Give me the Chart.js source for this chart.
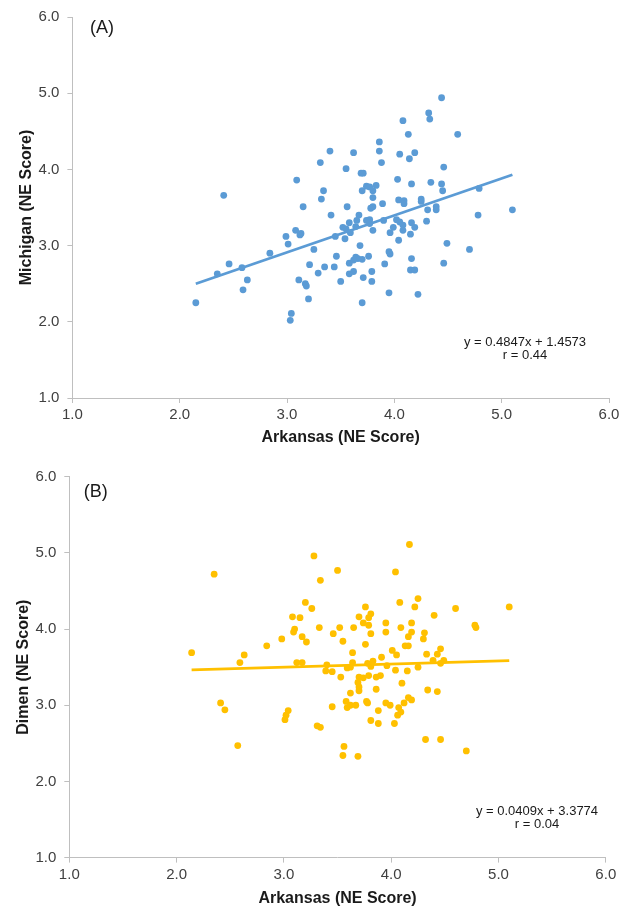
<!DOCTYPE html>
<html><head><meta charset="utf-8">
<script src="https://cdn.jsdelivr.net/npm/chart.js@4.4.1/dist/chart.umd.min.js"></script>
<style>
html,body{margin:0;padding:0;background:#fff;}
#wrap{position:relative;width:631px;height:908px;overflow:hidden;}
.c{position:absolute;left:0;width:631px;}
canvas{display:block;}
</style></head><body>
<div id="wrap">
<div class="c" style="top:0;height:456px"><canvas id="cA" width="631" height="456"></canvas></div>
<div class="c" style="top:456px;height:452px"><canvas id="cB" width="631" height="452"></canvas></div>
</div>
<script>
// ---- Panel A data (Arkansas vs Michigan) ----
const arkansasA = [3.40,3.31,3.55,3.09,2.41,3.34,3.32,3.15,3.56,3.41,3.58,3.52,3.08,3.13,3.12,2.99,3.45,3.54,3.01,3.25,
2.84,3.46,2.46,3.21,3.35,3.44,3.58,2.58,2.35,3.29,3.58,2.63,3.11,3.17,3.18,3.50,2.59,3.20,2.15,3.04,
3.03,4.44,4.32,4.33,4.08,4.59,4.13,3.86,3.62,3.86,4.05,4.19,4.14,3.88,4.46,3.69,3.71,4.03,4.34,4.16,
4.44,3.83,3.74,3.77,3.70,3.80,4.45,4.79,3.80,4.04,4.09,4.09,4.25,4.25,3.89,3.80,3.78,4.39,4.39,4.31,
5.10,3.67,4.78,3.65,3.74,3.77,3.90,4.02,4.05,4.30,3.77,4.16,4.08,3.64,3.99,4.19,3.55,3.80,4.08,3.59,
3.96,4.15,4.04,4.49,4.70,3.68,3.95,3.96,3.76,4.16,3.64,3.66,3.62,3.70,3.91,4.46,3.79,3.62,4.15,4.19,
3.71,3.79,3.95,4.22,3.70];
const michigan = [4.24,4.09,4.01,3.86,3.66,3.72,3.61,3.51,3.51,3.40,3.30,3.24,3.20,3.16,3.14,3.12,3.12,3.09,3.02,2.95,
2.90,2.86,2.76,2.75,2.72,2.72,2.77,2.71,2.63,2.64,2.63,2.55,2.55,2.50,2.47,2.53,2.42,2.30,2.25,2.11,
2.02,4.94,4.74,4.66,4.64,4.46,4.46,4.36,4.22,4.24,4.20,4.22,4.14,4.09,4.03,3.95,3.95,3.87,3.83,3.81,
3.81,3.79,3.78,3.77,3.72,3.72,3.72,3.75,3.63,3.60,3.59,3.55,3.61,3.58,3.55,3.51,3.49,3.51,3.47,3.47,
3.47,3.40,3.40,3.33,3.33,3.34,3.33,3.34,3.31,3.32,3.29,3.30,3.27,3.25,3.24,3.24,3.22,3.20,3.20,3.17,
3.17,3.15,3.07,3.03,2.95,3.00,2.92,2.89,2.86,2.83,2.85,2.83,2.81,2.82,2.76,2.77,2.66,2.66,2.68,2.68,
2.58,2.53,2.38,2.36,2.25];
const fitA = { slope: 0.4847, intercept: 1.4573, r: "0.44" };

// ---- Panel B data (Arkansas vs Dimen) ----
const arkansasB = [3.28,2.35,3.50,3.34,3.20,3.26,3.08,3.15,3.33,3.52,3.10,3.09,3.46,3.17,3.21,3.55,2.98,2.84,2.14,2.63,
2.59,3.12,3.17,3.40,3.59,3.39,3.45,3.53,2.41,2.45,3.45,3.58,3.59,3.04,3.02,3.01,3.31,3.34,2.57,3.56,
3.55,3.62,4.17,4.04,4.08,4.25,4.22,4.60,5.10,3.76,3.81,3.79,3.70,4.40,3.74,3.79,3.95,4.19,3.65,4.09,
4.78,4.79,3.81,3.95,4.19,4.16,4.31,4.30,3.76,4.13,4.16,4.01,4.05,4.46,4.33,4.43,3.64,4.39,4.49,4.46,
3.91,3.83,3.64,3.78,3.81,3.96,3.62,4.25,4.04,4.15,3.70,3.74,3.79,3.86,3.90,3.69,3.70,3.70,3.86,4.10,
4.34,4.43,3.62,3.67,3.77,3.78,3.95,3.99,4.16,4.19,4.12,4.07,4.09,4.06,3.88,3.81,3.88,4.03,4.32,4.46,
4.70,3.69];
const dimen = [4.96,4.72,4.77,4.64,4.35,4.27,4.16,4.15,4.02,4.02,4.00,3.96,3.94,3.90,3.83,3.84,3.87,3.78,3.69,3.66,
3.56,3.56,3.56,3.53,3.49,3.45,3.44,3.37,3.03,2.94,2.98,3.05,2.97,2.93,2.87,2.81,2.73,2.71,2.47,2.46,
2.34,3.16,5.11,4.75,4.35,4.40,4.29,4.27,4.29,4.29,4.20,4.15,4.16,4.18,4.08,4.05,4.08,4.08,4.02,4.02,
4.05,4.02,3.94,3.96,3.96,3.90,3.95,3.87,3.80,3.78,3.78,3.72,3.66,3.74,3.67,3.67,3.69,3.59,3.59,3.55,
3.63,3.58,3.56,3.55,3.51,3.52,3.50,3.50,3.46,3.45,3.37,3.36,3.39,3.37,3.39,3.30,3.24,3.19,3.21,3.29,
3.20,3.18,3.00,3.00,3.05,3.03,3.03,3.00,3.10,3.07,3.03,2.97,2.91,2.87,2.93,2.80,2.76,2.76,2.55,2.55,
2.40,2.33];
const fitB = { slope: 0.0409, intercept: 3.3774, r: "0.04" };

// ---- Axis / text settings ----
const axisMin = 1, axisMax = 6, axisStep = 1;
const xTitle = "Arkansas (NE Score)";
const yTitleA = "Michigan (NE Score)";
const yTitleB = "Dimen (NE Score)";

const FONT = '"Liberation Sans", Arial, Helvetica, sans-serif';

const panelText = {
  id: 'panelText',
  afterDraw(chart, args, o) {
    const ctx = chart.ctx, a = chart.chartArea;
    ctx.save();
    ctx.fillStyle = '#1a1a1a';
    ctx.textBaseline = 'middle';
    ctx.textAlign = 'left';
    ctx.font = '18px ' + FONT;
    ctx.fillText(o.label, a.left + o.labelDx, a.top + o.labelDy);
    ctx.textAlign = 'center';
    ctx.font = '13px ' + FONT;
    o.lines.forEach((t, i) => ctx.fillText(t, o.eqX, o.eqY + i * o.eqGap));
    ctx.restore();
  }
};

function makeChart(id, xs, ys, fit, color, yTitle, lay) {
  const pts = xs.map((x, i) => ({ x: x, y: ys[i] }));
  const xmin = Math.min(...xs), xmax = Math.max(...xs);
  const trend = [
    { x: xmin, y: fit.slope * xmin + fit.intercept },
    { x: xmax, y: fit.slope * xmax + fit.intercept }
  ];
  const axisCommon = {
    type: 'linear', min: axisMin, max: axisMax,
    grid: { display: true, drawOnChartArea: false, drawTicks: true, tickLength: 5, color: '#bfbfbf', lineWidth: 1 },
    border: { display: true, color: '#bfbfbf', width: 1 },
  };
  return new Chart(document.getElementById(id), {
    type: 'scatter',
    data: {
      datasets: [
        { type: 'line', data: trend, borderColor: color, borderWidth: 2.8, pointRadius: 0, fill: false, order: 0 },
        { data: pts, backgroundColor: color, borderWidth: 0, pointRadius: 3.4, pointHoverRadius: 3.4, order: 1 }
      ]
    },
    options: {
      responsive: false, animation: false, devicePixelRatio: 1,
      layout: { padding: { left: lay.padL, right: lay.padR, top: lay.padT, bottom: lay.padB } },
      plugins: {
        legend: { display: false }, tooltip: { enabled: false },
        panelText: {
          label: lay.label, labelDx: lay.labelDx, labelDy: lay.labelDy,
          lines: ['y = ' + fit.slope.toFixed(4) + 'x + ' + fit.intercept.toFixed(4), 'r = ' + fit.r],
          eqX: lay.eqX, eqY: lay.eqY, eqGap: 13
        }
      },
      scales: {
        x: Object.assign({}, axisCommon, {
          position: 'bottom',
          ticks: { stepSize: axisStep, padding: 3, color: '#404040', font: { family: FONT, size: 15 }, callback: v => v.toFixed(1), maxRotation: 0 },
          title: { display: true, text: xTitle, color: '#1a1a1a', font: { family: FONT, size: 16, weight: 'bold', lineHeight: 1 }, padding: 0 },
          afterFit: s => { s.height = lay.xH; }
        }),
        y: Object.assign({}, axisCommon, {
          position: 'left',
          ticks: { stepSize: axisStep, padding: 8, color: '#404040', font: { family: FONT, size: 15 }, callback: v => v.toFixed(1) },
          title: { display: true, text: yTitle, color: '#1a1a1a', font: { family: FONT, size: 16, weight: 'bold', lineHeight: 1 }, padding: 0 },
          afterFit: s => { s.width = lay.yW; }
        })
      }
    },
    plugins: [panelText]
  });
}

makeChart('cA', arkansasA, michigan, fitA, '#5B9BD5', yTitleA, {
  padL: 19, padR: 22, padT: 16.7, padB: 10, yW: 53.4, xH: 48,
  label: '(A)', labelDx: 17.5, labelDy: 11, eqX: 525, eqY: 342
});
makeChart('cB', arkansasB, dimen, fitB, '#FFC000', yTitleB, {
  padL: 16, padR: 25.2, padT: 20.7, padB: 1, yW: 53.3, xH: 49.4,
  label: '(B)', labelDx: 14.5, labelDy: 15, eqX: 537, eqY: 355
});
</script>
</body></html>
